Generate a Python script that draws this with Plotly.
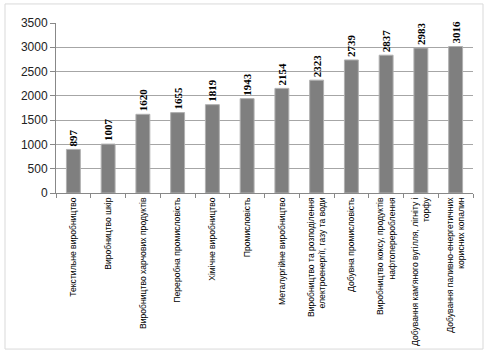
import plotly.graph_objects as go

categories = [
    "Текстильне виробництво",
    "Виробництво шкір",
    "Виробництво харчових продуктів",
    "Переробна промисловість",
    "Хімічне виробництво",
    "Промисловість",
    "Металургійне виробництво",
    "Виробництво та розподілення<br>електроенергії, газу та води",
    "Добувна промисловість",
    "Виробництво коксу, продуктів<br>нафтоперероблення",
    "Добування кам'яного вугілля, лігніту і<br>торфу",
    "Добування паливно-енергетичних<br>корисних копалин",
]
values = [897, 1007, 1620, 1655, 1819, 1943, 2154, 2323, 2739, 2837, 2983, 3016]
y_ticks = [0, 500, 1000, 1500, 2000, 2500, 3000, 3500]

fig = go.Figure(go.Bar(
    x=list(range(len(categories))),
    y=values,
    marker=dict(color="#7f7f7f", line=dict(color="#b0b0b0", width=1)),
    text=[str(v) for v in values],
    textposition="outside",
    textangle=-90,
    constraintext="none",
    cliponaxis=False,
    hoverinfo="skip",
    textfont=dict(family="Liberation Serif", size=11, color="#000000", weight="bold"),
))

fig.update_layout(
    width=492, height=356,
    margin=dict(l=56, r=19, t=23, b=163, autoexpand=False),
    paper_bgcolor="white", plot_bgcolor="white",
    bargap=0.6,
    showlegend=False,
    shapes=[dict(type="rect", xref="paper", yref="paper",
                 x0=-0.1223, x1=1.024, y0=-0.918, y1=1.112,
                 line=dict(color="#d9d9d9", width=1), fillcolor="rgba(0,0,0,0)", layer="below")],
)
fig.update_xaxes(
    automargin=False,
    tickmode="array", tickvals=list(range(len(categories))), ticktext=categories,
    range=[-0.5, len(categories) - 0.5],
    tickangle=-90,
    tickfont=dict(family="Liberation Sans", size=8.6, color="#000000"),
    showline=True, linecolor="#888888", linewidth=1,
    ticks="", showgrid=False, zeroline=False,
)
fig.update_xaxes(minor=dict(tickvals=[i - 0.5 for i in range(len(categories) + 1)],
                            ticks="outside", ticklen=4, tickcolor="#888888", showgrid=False))
fig.update_yaxes(
    automargin=False,
    range=[0, 3500], tickvals=y_ticks,
    tickfont=dict(family="Liberation Sans", size=12, color="#222222"),
    showline=True, linecolor="#888888", linewidth=1,
    ticks="outside", ticklen=5, tickcolor="#888888",
    showgrid=True, gridcolor="#a6a6a6", gridwidth=1, zeroline=False,
)

fig.write_html("out.html",
               config={"displayModeBar": False, "staticPlot": True},
               post_script="document.body.style.margin='0';document.body.style.overflow='hidden';")
